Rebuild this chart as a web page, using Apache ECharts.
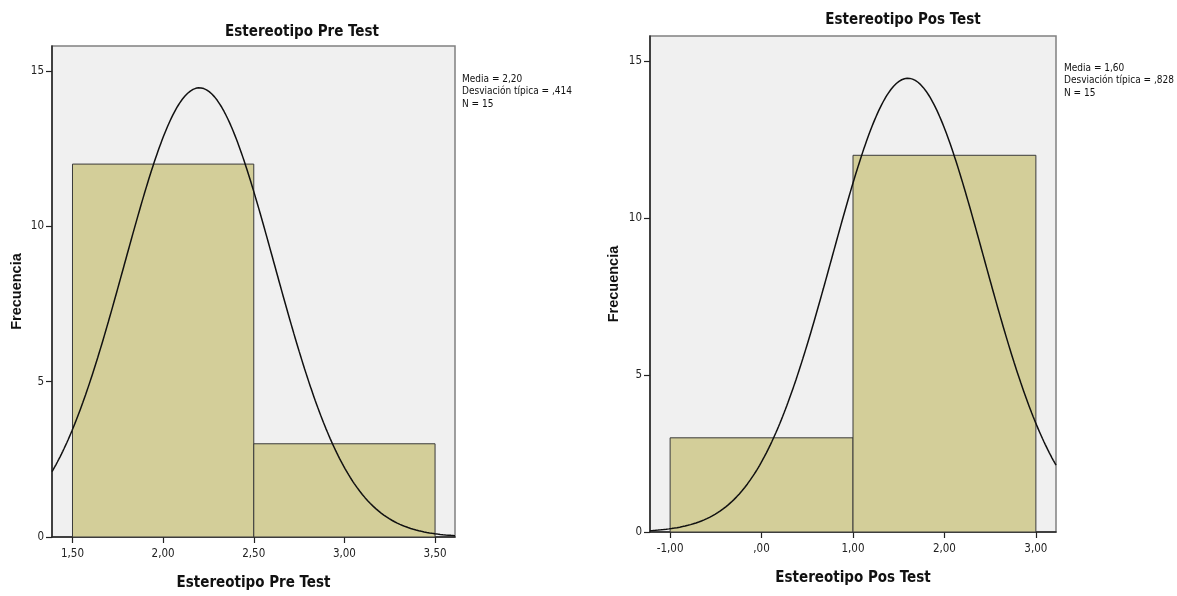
<!DOCTYPE html>
<html>
<head>
<meta charset="utf-8">
<script src="https://cdn.jsdelivr.net/npm/echarts@6/dist/echarts.min.js"></script>
<style>
html,body{margin:0;padding:0;background:#fff;}
#chart{width:1177px;height:596px;}
</style>
</head>
<body>
<div id="chart"></div>
<script>
// ---- data ----
const preBinEdges = [1.5, 2.5, 3.5];
const preCounts = [12, 3];
const posBinEdges = [-1, 1, 3];
const posCounts = [3, 12];
const preStats = [2.20, 0.414, 15];   // mean, sd, N
const posStats = [1.60, 0.828, 15];
const preXTicks = [1.5, 2.0, 2.5, 3.0, 3.5];
const posXTicks = [-1, 0, 1, 2, 3];
const yTicks = [0, 5, 10, 15];
const preStatsText = ['Media = 2,20', 'Desviación típica = ,414', 'N = 15'];
const posStatsText = ['Media = 1,60', 'Desviación típica = ,828', 'N = 15'];
const preTitle = 'Estereotipo Pre Test';
const posTitle = 'Estereotipo Pos Test';
const yName = 'Frecuencia';

// ---- layout ----
const preXRange = [1.387, 3.61];
const posXRange = [-1.22, 3.22];
const yMax = 15.8;
const NARROW = '"Liberation Sans Narrow","DejaVu Sans Condensed","Arial Narrow",sans-serif';
const SANS = '"Liberation Sans",Arial,sans-serif';

function bins(edges, counts) {
  return counts.map((c, i) => [edges[i], edges[i + 1], c]);
}
function normalCurve(stats, binW, range) {
  const [m, s, n] = stats;
  const pts = [];
  const steps = 300;
  for (let i = 0; i <= steps; i++) {
    const x = range[0] + (range[1] - range[0]) * i / steps;
    const z = (x - m) / s;
    pts.push([x, n * binW * Math.exp(-0.5 * z * z) / (s * Math.sqrt(2 * Math.PI))]);
  }
  return pts;
}
function fmt(v) {
  let s = Math.abs(v).toFixed(2).replace('.', ',');
  if (s.startsWith('0,')) s = s.slice(1);
  return (v < 0 ? '-' : '') + s;
}
function renderBar(params, api) {
  const p0 = api.coord([api.value(0), api.value(2)]);
  const p1 = api.coord([api.value(1), 0]);
  return {
    type: 'rect',
    shape: { x: p0[0], y: p0[1], width: p1[0] - p0[0], height: p1[1] - p0[1] },
    style: { fill: '#D3CE99', stroke: '#3a3a3a', lineWidth: 1 }
  };
}
function xAxis(gi, range, ticks, name) {
  return {
    type: 'value', gridIndex: gi, min: range[0], max: range[1],
    axisLine: { show: true, onZero: false, lineStyle: { color: '#222', width: 1.5 } },
    axisTick: { show: true, customValues: ticks, length: 6, lineStyle: { color: '#222', width: 1.2 } },
    axisLabel: { customValues: ticks, formatter: fmt, fontSize: 11.5, fontFamily: NARROW, color: '#222', margin: 11 },
    splitLine: { show: false },
    name: name, nameLocation: 'middle', nameGap: 39,
    nameTextStyle: { fontWeight: 'bold', fontSize: 15, fontFamily: NARROW, color: '#111' }
  };
}
function yAxis(gi, gap) {
  return {
    type: 'value', gridIndex: gi, min: 0, max: yMax,
    axisLine: { show: true, onZero: false, lineStyle: { color: '#222', width: 1.5 } },
    axisTick: { show: true, customValues: yTicks, length: 6, lineStyle: { color: '#222', width: 1.2 } },
    axisLabel: { customValues: yTicks, fontSize: 11.5, fontFamily: NARROW, color: '#222', margin: 8 },
    splitLine: { show: false },
    name: yName, nameLocation: 'middle', nameGap: gap, nameRotate: 90,
    nameTextStyle: { fontWeight: 'bold', fontSize: 14.5, fontFamily: SANS, color: '#111' }
  };
}
function statsGraphic(lines, x, y) {
  return {
    type: 'text', left: x, top: y,
    style: { text: lines.join('\n'), font: '10px ' + NARROW, fill: '#111', lineHeight: 12.5 }
  };
}
function titleGraphic(text, cx, cy) {
  return {
    type: 'text', x: cx, y: cy,
    style: { text: text, font: 'bold 15px ' + NARROW, fill: '#111', align: 'center', verticalAlign: 'middle' }
  };
}

const chart = echarts.init(document.getElementById('chart'), null, { renderer: 'canvas' });
chart.setOption({
  animation: false,
  backgroundColor: '#ffffff',
  grid: [
    { left: 52, top: 46, width: 403, height: 496, show: true, backgroundColor: '#F0F0F0', borderColor: '#808080', borderWidth: 1.5 },
    { left: 650, top: 36, width: 406, height: 496, show: true, backgroundColor: '#F0F0F0', borderColor: '#808080', borderWidth: 1.5 }
  ],
  xAxis: [xAxis(0, preXRange, preXTicks, preTitle), xAxis(1, posXRange, posXTicks, posTitle)],
  yAxis: [yAxis(0, 28), yAxis(1, 29)],
  series: [
    { type: 'custom', xAxisIndex: 0, yAxisIndex: 0, renderItem: renderBar, encode: { x: [0, 1], y: 2 }, data: bins(preBinEdges, preCounts), z: 2 },
    { type: 'line', xAxisIndex: 0, yAxisIndex: 0, data: normalCurve(preStats, preBinEdges[1] - preBinEdges[0], preXRange), showSymbol: false, clip: true, lineStyle: { color: '#111', width: 1.5 }, z: 3 },
    { type: 'custom', xAxisIndex: 1, yAxisIndex: 1, renderItem: renderBar, encode: { x: [0, 1], y: 2 }, data: bins(posBinEdges, posCounts), z: 2 },
    { type: 'line', xAxisIndex: 1, yAxisIndex: 1, data: normalCurve(posStats, posBinEdges[1] - posBinEdges[0], posXRange), showSymbol: false, clip: true, lineStyle: { color: '#111', width: 1.5 }, z: 3 }
  ],
  graphic: [
    titleGraphic(preTitle, 302, 32),
    titleGraphic(posTitle, 903, 20),
    statsGraphic(preStatsText, 462, 73),
    statsGraphic(posStatsText, 1064, 62)
  ]
});
</script>
</body>
</html>
